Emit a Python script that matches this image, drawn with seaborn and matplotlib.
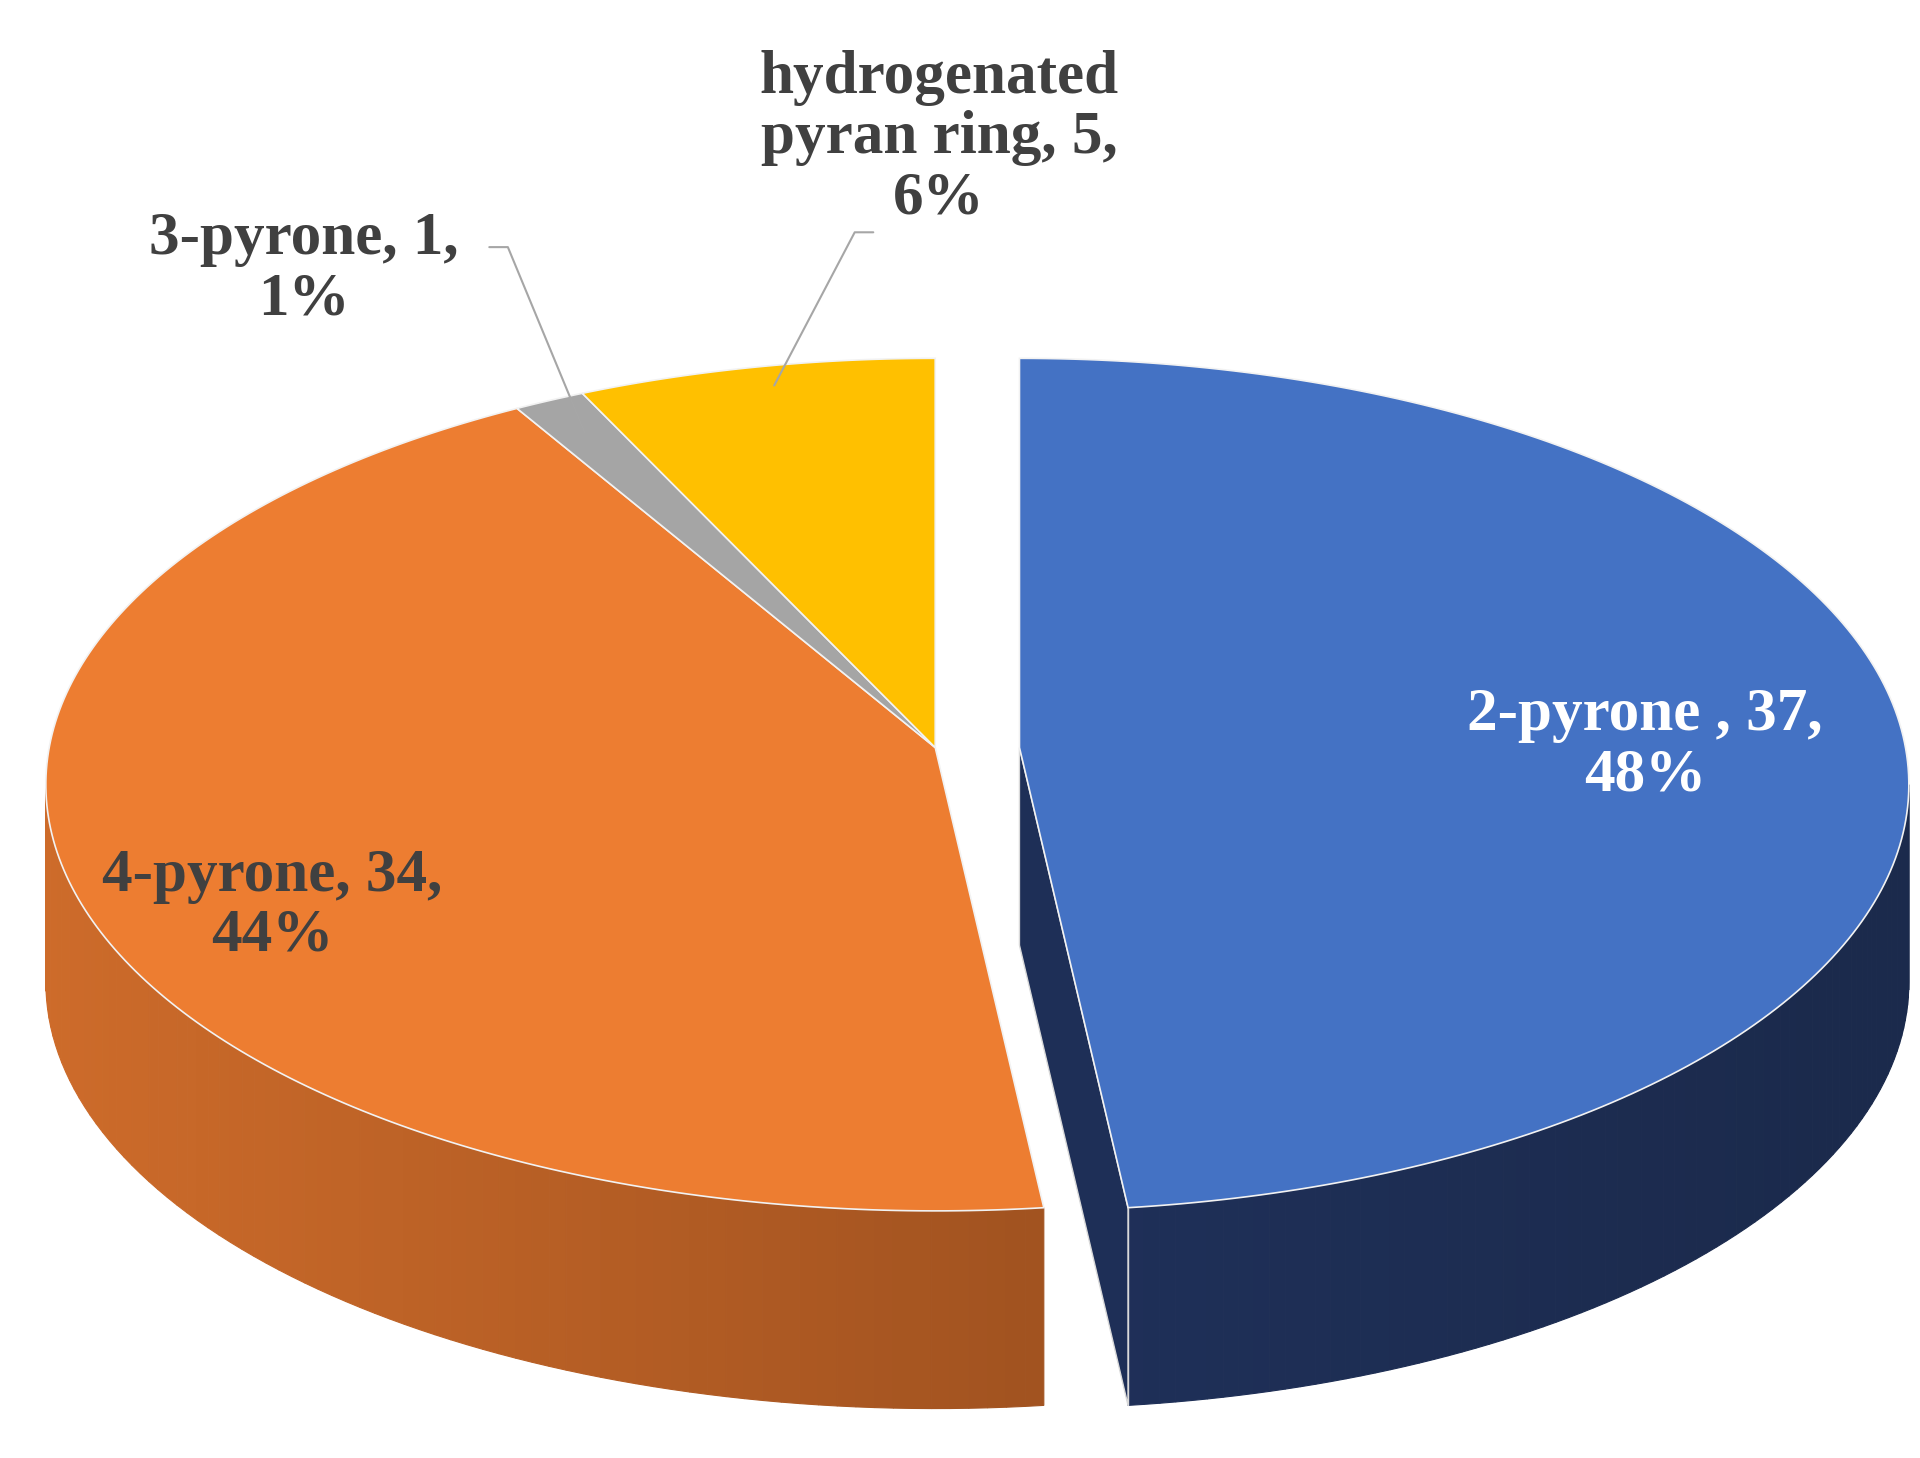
import numpy as np
import matplotlib
matplotlib.use("Agg")
import matplotlib.pyplot as plt
import seaborn as sns
from matplotlib.patches import Polygon
from matplotlib.colors import to_rgb

categories = ["2-pyrone ", "4-pyrone", "3-pyrone", "hydrogenated\npyran ring"]
values = [37, 34, 1, 5]
top_colors = ["#4472C4", "#ED7D31", "#A5A5A5", "#FFC000"]
side_left = ["#24386A", "#CD6B2A", "#7F7F7F", "#BF9000"]
side_right = ["#1B2A4C", "#7E3F18", "#6F6F6F", "#9F7800"]

sns.set_theme(style="white")
plt.rcParams['font.family'] = ['Liberation Serif', 'DejaVu Serif']

fig = plt.figure(figsize=(19.2, 14.58), dpi=100)
ax = fig.add_axes([0, 0, 1, 1])
ax.set_xlim(0, 1550)
ax.set_ylim(1180, 0)
ax.axis("off")

cx, cy, a, b, d = 755, 635, 718, 345, 160
explode = [68, 0, 0, 0]

def pt(t, dx=0, dy=0):
    return cx + dx + a*np.cos(np.radians(t)), cy + dy - b*np.sin(np.radians(t))

total = sum(values)
angles = []
start = 90.0
for v in values:
    sweep = 360.0 * v / total
    angles.append((start - sweep, start))
    start -= sweep

def lerp(c1, c2, f):
    c1, c2 = np.array(to_rgb(c1)), np.array(to_rgb(c2))
    return c1 + (c2 - c1) * f

# sides (visible lower half: angles in [180,360])
for i, (t1, t2) in enumerate(angles):
    dx = explode[i]
    lo, hi = t1 % 360, t2 % 360
    if hi <= lo:
        hi += 360
    segs = []
    for off in (0, 360):
        s, e = max(lo, 180 + off), min(hi, 360 + off)
        if e > s:
            segs.append((s, e))
    for s, e in segs:
        n = 80
        ts = np.linspace(s, e, n + 1)
        for k in range(n):
            p1, p2 = pt(ts[k], dx), pt(ts[k+1], dx)
            f = (p1[0] - (cx - a)) / (2*a)
            col = lerp(side_left[i], side_right[i], min(max(f, 0), 1))
            ax.add_patch(Polygon([p1, p2, (p2[0], p2[1]+d), (p1[0], p1[1]+d)],
                                 closed=True, fc=col, ec=col, lw=0.8))
    if dx:
        # cut face of exploded slice at its lower edge
        e = pt(t1, dx)
        c = (cx + dx, cy - 30)
        ax.add_patch(Polygon([c, e, (e[0], e[1]+d), (c[0], c[1]+d)],
                             closed=True, fc="#1E2F57", ec="#D9D9D9", lw=1))
        ax.plot([e[0], e[0]], [e[1], e[1]+d], color="#D9D9D9", lw=1)

# tops
for i, (t1, t2) in enumerate(angles):
    dx = explode[i]
    ts = np.linspace(t1, t2, 200)
    pts = [(cx + dx, cy - 30)] + [pt(t, dx) for t in ts]
    ax.add_patch(Polygon(pts, closed=True, fc=top_colors[i], ec="#F2F2F2", lw=1.2))

pct = [round(100 * v / total) for v in values]
lab = [f"{c}, {v},\n{p}%" for c, v, p in zip(categories, values, pct)]
lab[3] = f"hydrogenated\npyran ring, {values[3]},\n{pct[3]}%"
kw = dict(fontsize=44, fontweight="bold", ha="center", va="center", linespacing=1.1)
ax.text(1328, 603, lab[0], color="white", **kw)
ax.text(220, 733, lab[1], color="#404040", **kw)
ax.text(245, 218, lab[2], color="#404040", **kw)
ax.text(758, 112, lab[3], color="#404040", **kw)
ax.plot([395, 410, 472], [200, 200, 350], color="#A6A6A6", lw=1.5)
ax.plot([705, 690, 625], [188, 188, 312], color="#A6A6A6", lw=1.5)

fig.savefig("out.png", dpi=100, facecolor="white")
